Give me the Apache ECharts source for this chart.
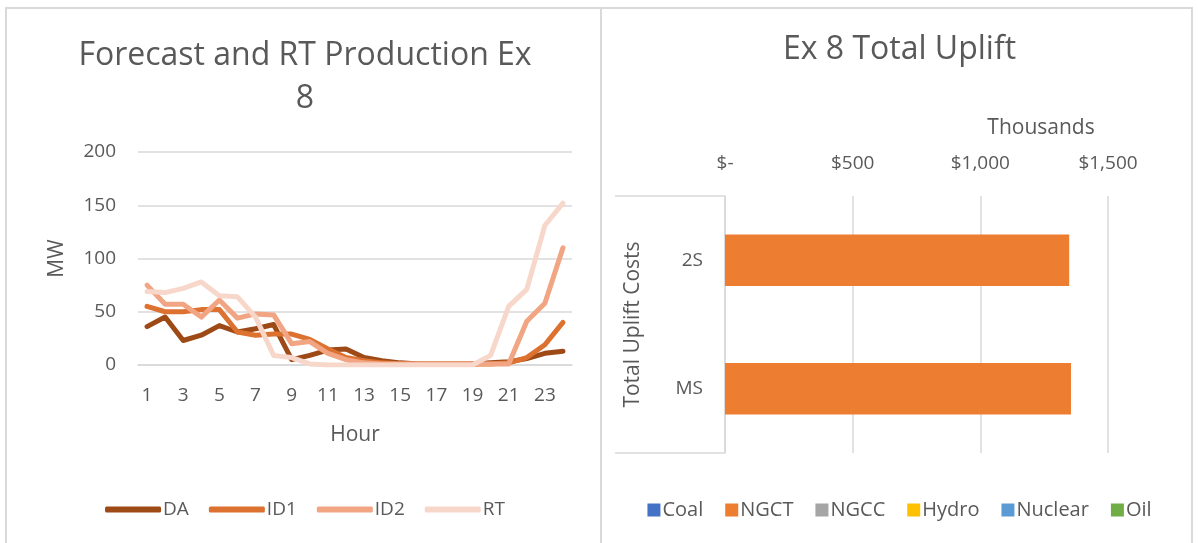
<!DOCTYPE html>
<html>
<head>
<meta charset="utf-8">
<script src="https://cdn.jsdelivr.net/npm/echarts@6/dist/echarts.min.js"></script>
<style>
html,body{margin:0;padding:0;background:#fff;width:1198px;height:543px;overflow:hidden;}
#frame{position:absolute;left:5px;top:7px;width:1188px;height:540px;border-top:2px solid #d9d9d9;border-left:2px solid #d9d9d9;border-right:2px solid #d9d9d9;box-sizing:border-box;}
#divider{position:absolute;left:600px;top:7px;width:2px;height:540px;background:#d9d9d9;}
#left{position:absolute;left:5px;top:0;width:600px;height:543px;}
#right{position:absolute;left:601px;top:0;width:597px;height:543px;}
</style>
</head>
<body>
<div id="frame"></div>
<div id="divider"></div>
<div id="left"></div>
<div id="right"></div>
<script>
var hours = ['1','2','3','4','5','6','7','8','9','10','11','12','13','14','15','16','17','18','19','20','21','22','23','24'];
var DA  = [36,45,23,28,37,31,34,38,5,9,14,15,7,4,2,1,1,1,1,2,3,6,11,13];
var ID1 = [55,50,50,52,52,31,28,29,29,24,15,7,4,2,1,1,1,1,1,1,2,7,19,40];
var ID2 = [75,57,57,45,61,44,48,47,20,22,11,5,2,1,1,1,1,1,1,1,1,41,58,110];
var RT  = [69,68,72,78,65,64,45,9,7,1,0,0,0,0,0,0,0,0,0,9,55,71,131,152];

var upliftCats = ['MS','2S'];
var Coal    = [0,0];
var NGCT    = [1355,1348];
var NGCC    = [0,0];
var Hydro   = [0,0];
var Nuclear = [0,0];
var Oil     = [0,0];

var FONT = '"Open Sans", Lato, sans-serif';
var TXT = '#595959';
var GRID = '#d9d9d9';

var left = echarts.init(document.getElementById('left'));
function lineSeries(name, data, color){
  return {name:name, type:'line', data:data, symbol:'none', smooth:false,
    lineStyle:{width:5, color:color, cap:'round', join:'round'}, itemStyle:{color:color}};
}
left.setOption({
  animation:false,
  textStyle:{fontFamily:FONT},
  title:{text:'Forecast and RT Production Ex\n8', left:'center', top:29,
    textStyle:{fontFamily:FONT, fontSize:32, fontWeight:'normal', color:TXT, lineHeight:43}},
  legend:{data:['DA','ID1','ID2','RT'], left:'center', top:495, icon:'roundRect',
    itemWidth:56, itemHeight:6, itemGap:20,
    textStyle:{fontFamily:FONT, fontSize:19, color:TXT, padding:[0,0,0,-3]}},
  grid:{left:133, right:33, top:152, bottom:178, containLabel:false},
  xAxis:{type:'category', data:hours, boundaryGap:true,
    name:'Hour', nameLocation:'middle', nameGap:60,
    nameTextStyle:{fontFamily:FONT, fontSize:21, color:TXT},
    axisLine:{lineStyle:{color:GRID, width:1.5}}, axisTick:{show:false},
    axisLabel:{interval:1, margin:21, fontFamily:FONT, fontSize:19, color:TXT}},
  yAxis:{type:'value', min:0, max:200, interval:50,
    name:'MW', nameLocation:'middle', nameGap:70, nameRotate:90,
    nameTextStyle:{fontFamily:FONT, fontSize:21, color:TXT},
    axisLine:{show:false}, axisTick:{show:false},
    splitLine:{lineStyle:{color:GRID, width:1.5}},
    axisLabel:{margin:22, fontFamily:FONT, fontSize:19, color:TXT}},
  series:[
    lineSeries('DA', DA, '#9E4A17'),
    lineSeries('ID1', ID1, '#DD7130'),
    lineSeries('ID2', ID2, '#F2A582'),
    lineSeries('RT', RT, '#F8D7CB')
  ]
});

var right = echarts.init(document.getElementById('right'));
function barSeries(name, data, color){
  return {name:name, type:'bar', stack:'total', data:data, barCategoryGap:'60%',
    itemStyle:{color:color}};
}
right.setOption({
  animation:false,
  textStyle:{fontFamily:FONT},
  title:{text:'Ex 8 Total Uplift', left:'center', top:29,
    textStyle:{fontFamily:FONT, fontSize:32, fontWeight:'normal', color:TXT}},
  legend:{data:['Coal','NGCT','NGCC','Hydro','Nuclear','Oil'], left:'center', top:495, icon:'rect',
    itemWidth:13, itemHeight:13, itemGap:22,
    textStyle:{fontFamily:FONT, fontSize:20, color:TXT, padding:[0,0,0,-3]}},
  grid:{left:124, right:90, top:196, bottom:90, containLabel:false},
  xAxis:{type:'value', position:'top', min:0, max:1500, interval:500,
    axisLine:{show:false}, axisTick:{show:false},
    splitLine:{lineStyle:{color:GRID, width:1.5}},
    axisLabel:{margin:23, fontFamily:FONT, fontSize:19, color:TXT,
      formatter:function(v){ return v === 0 ? '$-' : '$' + v.toLocaleString('en-US'); }}},
  yAxis:{type:'category', data:upliftCats,
    name:'Total Uplift Costs', nameLocation:'middle', nameGap:81, nameRotate:90,
    nameTextStyle:{fontFamily:FONT, fontSize:21, color:TXT},
    axisLine:{lineStyle:{color:GRID, width:1.5}}, axisTick:{show:false},
    axisLabel:{margin:22, fontFamily:FONT, fontSize:19, color:TXT}},
  graphic:[
    {type:'text', x:440, y:128, style:{text:'Thousands', fontFamily:FONT, fontSize:21, fill:TXT, textAlign:'center', textVerticalAlign:'middle'}},
    {type:'line', shape:{x1:14, y1:196, x2:124, y2:196}, style:{stroke:GRID, lineWidth:1.5}},
    {type:'line', shape:{x1:14, y1:453, x2:124, y2:453}, style:{stroke:GRID, lineWidth:1.5}}
  ],
  series:[
    barSeries('Coal', Coal, '#4472C4'),
    barSeries('NGCT', NGCT, '#ED7D31'),
    barSeries('NGCC', NGCC, '#A5A5A5'),
    barSeries('Hydro', Hydro, '#FFC000'),
    barSeries('Nuclear', Nuclear, '#5B9BD5'),
    barSeries('Oil', Oil, '#70AD47')
  ]
});
</script>
</body>
</html>
